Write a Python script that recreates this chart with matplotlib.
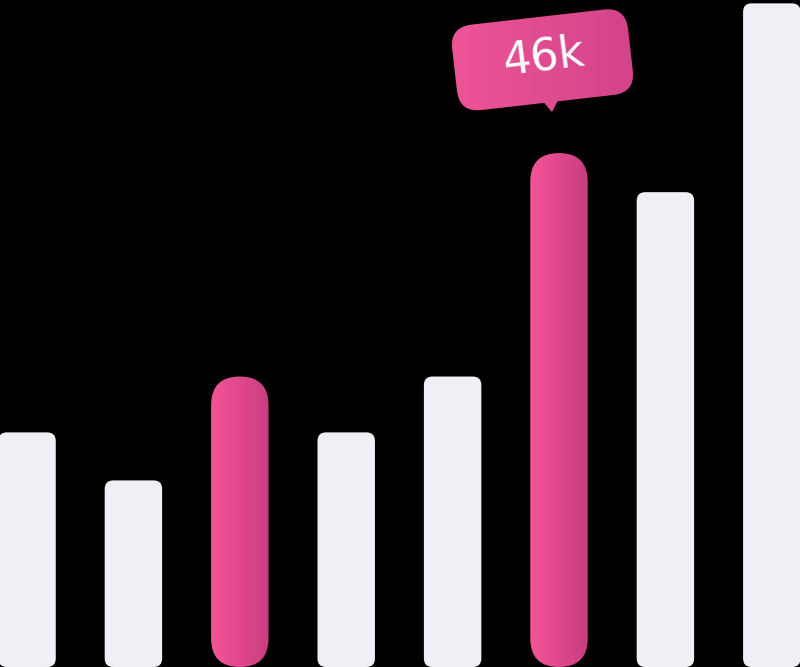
import numpy as np
import matplotlib
matplotlib.use("Agg")
from matplotlib import pyplot as plt
from matplotlib.patches import FancyBboxPatch, Polygon
import matplotlib.transforms as mtransforms


categories = ["1", "2", "3", "4", "5", "6", "7", "8"]
values = [21.0, 16.7, 26.0, 21.0, 26.0, 46.0, 42.5, 59.4]
highlight = [False, False, True, False, False, True, False, False]
callout_index = 5
callout_label = "46k"

W, H = 800, 667
BAR_W = 0.54
PLAIN = "#eff0f5"
PINK_L = np.array([245, 84, 152]) / 255
PINK_R = np.array([200, 62, 128]) / 255


def hgrad(left=PINK_L, right=PINK_R, n=64):
    t = np.linspace(0, 1, n)[None, :, None]
    return left[None, None, :] * (1 - t) + right[None, None, :] * t


fig = plt.figure(figsize=(W / 100, H / 100), dpi=100, facecolor="black")
ax = fig.add_axes([0, 0, 1, 1])
ax.set_facecolor("black")
ax.set_xlim(-0.254, 7.265)
ax.set_ylim(0, 59.7)
ax.axis("off")

# rounding in data units needs the y/x scale ratio
xspan = np.diff(ax.get_xlim())[0] / W
yspan = np.diff(ax.get_ylim())[0] / H
aspect = yspan / xspan

for i, (v, hl) in enumerate(zip(values, highlight)):
    x0 = i - BAR_W / 2
    if hl:
        patch = FancyBboxPatch((x0, 0), BAR_W, v,
                               boxstyle=f"round,pad=0,rounding_size={BAR_W / 2}",
                               mutation_aspect=aspect, facecolor="none", edgecolor="none")
        ax.add_patch(patch)
        im = ax.imshow(hgrad(), extent=(x0, x0 + BAR_W, 0, v), aspect="auto",
                       interpolation="bilinear", zorder=2)
        im.set_clip_path(patch)
    else:
        patch = FancyBboxPatch((x0, 0), BAR_W, v,
                               boxstyle="round,pad=0,rounding_size=0.08",
                               mutation_aspect=aspect, facecolor=PLAIN, edgecolor="none")
        ax.add_patch(patch)

# callout above the highlighted bar, drawn in pixel offsets around the tail tip
tip = mtransforms.ScaledTranslation(callout_index - 0.066, values[callout_index] + 3.67, ax.transData)
local = mtransforms.Affine2D().rotate_deg(6.5) + tip

box = FancyBboxPatch((-92, 10), 177, 86, boxstyle="round,pad=0,rounding_size=22",
                     transform=local, facecolor="none", edgecolor="none")
ax.add_patch(box)
bx0, bx1 = callout_index - 1.15, callout_index + 0.85
by0, by1 = values[callout_index] + 3.0, ax.get_ylim()[1]
CL = np.array([240, 86, 152]) / 255
CR = np.array([208, 66, 138]) / 255
im = ax.imshow(hgrad(CL, CR), extent=(bx0, bx1, by0, by1), aspect="auto",
               interpolation="bilinear", zorder=3)
im.set_clip_path(box)

tail = Polygon([(-8, 12), (8, 12), (0, 0)], closed=True, transform=local,
               facecolor=(CL + CR) / 2, edgecolor="none", zorder=3)
ax.add_patch(tail)

ax.text(-2, 56, callout_label, transform=local, color="white", fontsize=32,
        family="DejaVu Sans", ha="center", va="center", rotation=7, zorder=4)

fig.savefig("out.png", dpi=100, facecolor="black")
